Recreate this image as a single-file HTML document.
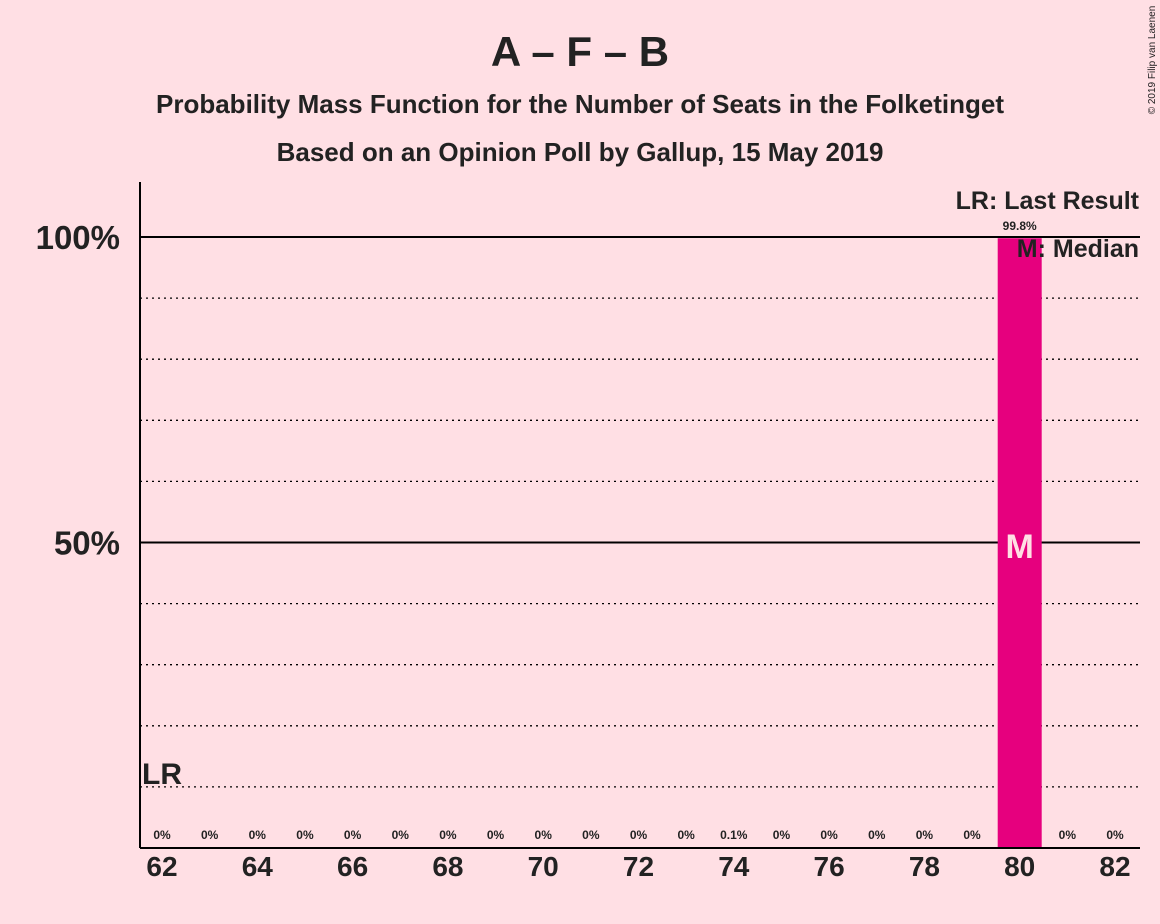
<!DOCTYPE html>
<html><head><meta charset="utf-8"><style>
body{margin:0;background:#ffdfe4;}
svg{display:block;font-family:"Liberation Sans",sans-serif;}
</style></head><body>
<svg id="chart" width="1160" height="924" viewBox="0 0 1160 924">
<rect width="1160" height="924" fill="#ffdfe4"/>
<text x="580" y="66" text-anchor="middle" font-size="42" font-weight="bold" fill="#222">A – F – B</text>
<text x="580" y="113" text-anchor="middle" font-size="26" font-weight="bold" fill="#222">Probability Mass Function for the Number of Seats in the Folketinget</text>
<text x="580" y="161" text-anchor="middle" font-size="26" font-weight="bold" fill="#222">Based on an Opinion Poll by Gallup, 15 May 2019</text>
<text x="1155" y="60" transform="rotate(-90 1155 60)" text-anchor="middle" font-size="10" fill="#222">© 2019 Filip van Laenen</text>
<g id="grid"></g>
<g id="bars"></g>
<g id="labels"></g>
<line x1="140" y1="182" x2="140" y2="848" stroke="#000" stroke-width="2"/>
<line x1="140" y1="848" x2="1140" y2="848" stroke="#000" stroke-width="2"/>
<text x="1139" y="209" text-anchor="end" font-size="25" font-weight="bold" fill="#222">LR: Last Result</text>
<text x="1139" y="257" text-anchor="end" font-size="25" font-weight="bold" fill="#222">M: Median</text>
</svg>
<script>
const seats=[62,63,64,65,66,67,68,69,70,71,72,73,74,75,76,77,78,79,80,81,82];
const probs=[0,0,0,0,0,0,0,0,0,0,0,0,0.1,0,0,0,0,0,99.8,0,0];
const probLabels=["0%","0%","0%","0%","0%","0%","0%","0%","0%","0%","0%","0%","0.1%","0%","0%","0%","0%","0%","99.8%","0%","0%"];
const yTicks=[50,100];
const yTickLabels=["50%","100%"];
const gridLines=[10,20,30,40,60,70,80,90];
const medianSeat=80;
const lastResultSeat=62;
const NS="http://www.w3.org/2000/svg";
function xs(s){return 162+(s-62)*47.65;}
function ys(p){return 848-p*6.11;}
function mk(tag,attrs,parent,text){const e=document.createElementNS(NS,tag);for(const k in attrs)e.setAttribute(k,attrs[k]);if(text!==undefined)e.textContent=text;document.getElementById(parent).appendChild(e);return e;}
gridLines.forEach(g=>{const l=mk('line',{x1:140,x2:1140,y1:ys(g),y2:ys(g),stroke:'#000','stroke-width':1.3,'stroke-dasharray':'2,4'},'grid');

});
yTicks.forEach((t,i)=>{const l=mk('line',{x1:140,x2:1140,y1:ys(t),y2:ys(t),stroke:'#000','stroke-width':2},'grid');


const tx=mk('text',{x:120,y:ys(t)+12,'text-anchor':'end','font-size':33,'font-weight':'bold',fill:'#222'},'labels',yTickLabels[i]);

});
seats.forEach((s,i)=>{
if(probs[i]>0.5){const b=mk('rect',{x:xs(s)-22,y:ys(probs[i]),width:44,height:848-ys(probs[i]),fill:'#e6007e'},'bars');


const v=mk('text',{x:xs(s),y:ys(probs[i])-8,'text-anchor':'middle','font-size':12,'font-weight':'bold',fill:'#222'},'labels',probLabels[i]);

}
else{const v=mk('text',{x:xs(s),y:839,'text-anchor':'middle','font-size':12,'font-weight':'bold',fill:'#222'},'labels',probLabels[i]);

}
if(s%2===0){const t=mk('text',{x:xs(s),y:876,'text-anchor':'middle','font-size':28,'font-weight':'bold',fill:'#222'},'labels',String(s));

}
if(s===medianSeat){const m=mk('text',{x:xs(s),y:558,'text-anchor':'middle','font-size':34,'font-weight':'bold',fill:'#ffdfe4'},'labels','M');

}
if(s===lastResultSeat){const lr=mk('text',{x:xs(s)-20,y:784,'font-size':30,'font-weight':'bold',fill:'#222'},'labels','LR');

}
});
</script>
</body></html>
